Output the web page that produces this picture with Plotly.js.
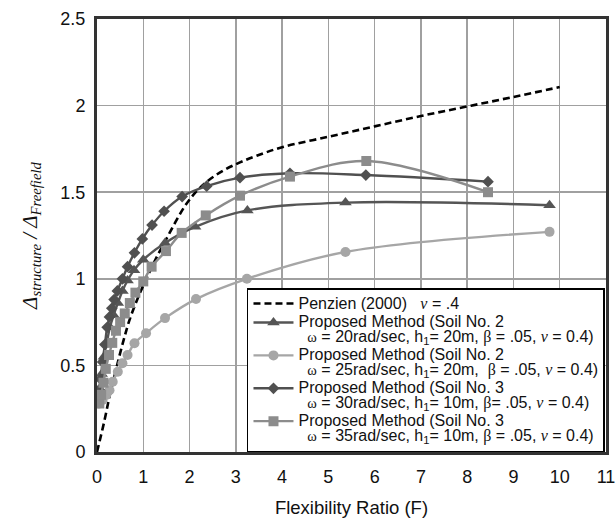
<!DOCTYPE html>
<html>
<head>
<meta charset="utf-8">
<script src="https://cdn.plot.ly/plotly-3.0.1.min.js"></script>
<style>html,body{margin:0;padding:0;background:#fff;}#chart{width:616px;height:523px;}</style>
</head>
<body>
<div id="chart"></div>
<script>
// Penzien (2000), nu = .4
const penzienF = [0, 0.16, 0.27, 0.37, 0.48, 0.59, 0.70, 0.90, 1.10, 1.30, 1.50, 1.70, 1.90, 2.10, 2.37, 2.73, 3.09, 3.45, 4.0, 5.0, 6.0, 7.0, 8.0, 9.0, 10.0];
const penzienR = [0, 0.18, 0.32, 0.43, 0.55, 0.66, 0.76, 0.90, 1.02, 1.13, 1.23, 1.33, 1.42, 1.49, 1.56, 1.625, 1.672, 1.71, 1.76, 1.82, 1.88, 1.94, 1.995, 2.05, 2.107];

// Soil No. 2, omega = 20 rad/sec (triangles)
const soil2w20F = [0.05, 0.10, 0.15, 0.21, 0.28, 0.36, 0.45, 0.55, 0.66, 0.80, 1.00, 1.47, 2.12, 3.25, 5.37, 9.78];
const soil2w20R = [0.35, 0.45, 0.55, 0.63, 0.72, 0.79, 0.86, 0.93, 0.99, 1.05, 1.11, 1.207, 1.30, 1.395, 1.44, 1.425];

// Soil No. 2, omega = 25 rad/sec (circles)
const soil2w25F = [0.05, 0.12, 0.20, 0.27, 0.34, 0.45, 0.55, 0.66, 0.81, 1.06, 1.47, 2.14, 3.24, 5.37, 9.78];
const soil2w25R = [0.28, 0.30, 0.33, 0.357, 0.406, 0.463, 0.512, 0.56, 0.628, 0.686, 0.773, 0.883, 1.0, 1.155, 1.271];

// Soil No. 3, omega = 30 rad/sec (diamonds)
const soil3w30F = [0.05, 0.08, 0.12, 0.17, 0.22, 0.27, 0.32, 0.37, 0.44, 0.55, 0.66, 0.81, 0.98, 1.19, 1.45, 1.84, 2.37, 3.09, 4.17, 5.81, 8.45];
const soil3w30R = [0.36, 0.42, 0.52, 0.62, 0.72, 0.78, 0.83, 0.88, 0.93, 1.0, 1.07, 1.15, 1.23, 1.31, 1.39, 1.475, 1.535, 1.584, 1.609, 1.599, 1.561];

// Soil No. 3, omega = 35 rad/sec (squares)
const soil3w35F = [0.05, 0.09, 0.14, 0.19, 0.26, 0.33, 0.41, 0.50, 0.60, 0.71, 0.83, 1.00, 1.18, 1.49, 1.83, 2.35, 3.09, 4.17, 5.82, 8.45];
const soil3w35R = [0.28, 0.33, 0.40, 0.48, 0.56, 0.63, 0.70, 0.75, 0.80, 0.86, 0.92, 0.985, 1.07, 1.16, 1.265, 1.366, 1.48, 1.59, 1.68, 1.50];

const xTickVals = [0,1,2,3,4,5,6,7,8,9,10,11];
const yTickVals = [0, 0.5, 1, 1.5, 2, 2.5];
const yTickText = ['0', '0.5', '1', '1.5', '2', '2.5'];

const S = 'font-size:16px';
const G = 'font-family:Liberation Serif';
function line(t){ return '<span style="' + S + '">' + t + '</span>'; }
const nu = '<span style="' + G + ';font-style:italic">ν</span>';
const om = '<span style="' + G + ';font-size:14.5px">ω</span>';
const be = '<span style="' + G + '">β</span>';

const names = [
  line('Penzien (2000)\u00a0\u00a0 ' + nu + ' = .4'),
  line('Proposed Method (Soil No. 2') + '<br>' + line('\u00a0\u00a0' + om + ' = 20rad/sec, h<sub>1</sub>= 20m, ' + be + ' = .05, ' + nu + ' = 0.4)'),
  line('Proposed Method (Soil No. 2') + '<br>' + line('\u00a0\u00a0' + om + ' = 25rad/sec, h<sub>1</sub>= 20m, \u00a0' + be + ' = .05, ' + nu + ' = 0.4)'),
  line('Proposed Method (Soil No. 3') + '<br>' + line('\u00a0\u00a0' + om + ' = 30rad/sec, h<sub>1</sub>= 10m, ' + be + '= .05, ' + nu + ' = 0.4)'),
  line('Proposed Method (Soil No. 3') + '<br>' + line('\u00a0\u00a0' + om + ' = 35rad/sec, h<sub>1</sub>= 10m, ' + be + ' = .05, ' + nu + ' = 0.4)')
];

const traces = [
  {x: penzienF, y: penzienR, name: names[0], mode: 'lines',
   line: {color: '#000', width: 2.6, dash: '7px,4px', shape: 'spline', smoothing: 1}},
  {x: soil2w20F, y: soil2w20R, name: names[1], mode: 'lines+markers',
   line: {color: '#555', width: 2.4, shape: 'spline'},
   marker: {symbol: 'triangle-up', size: 11, color: '#555'}},
  {x: soil2w25F, y: soil2w25R, name: names[2], mode: 'lines+markers',
   line: {color: '#a6a6a6', width: 2.4, shape: 'spline'},
   marker: {symbol: 'circle', size: 10, color: '#a6a6a6'}},
  {x: soil3w30F, y: soil3w30R, name: names[3], mode: 'lines+markers',
   line: {color: '#505050', width: 2.4, shape: 'spline'},
   marker: {symbol: 'diamond', size: 9, color: '#505050'}},
  {x: soil3w35F, y: soil3w35R, name: names[4], mode: 'lines+markers',
   line: {color: '#8c8c8c', width: 2.4, shape: 'spline'},
   marker: {symbol: 'square', size: 10, color: '#8c8c8c'}}
];

const layout = {
  width: 616, height: 523,
  margin: {l: 97, r: 10, t: 19, b: 71},
  paper_bgcolor: '#fff', plot_bgcolor: '#fff',
  font: {family: 'Liberation Sans, Arial, sans-serif', color: '#111'},
  showlegend: true,
  legend: {
    x: 0.998, xanchor: 'right', y: 0, yanchor: 'bottom',
    bgcolor: '#fff', bordercolor: '#000', borderwidth: 1.5,
    font: {size: 11.5, color: '#111'}, valign: 'top', itemwidth: 40
  },
  xaxis: {
    range: [0, 11], tickvals: xTickVals, ticktext: xTickVals.map(String),
    showgrid: true, gridcolor: '#a0a0a0', gridwidth: 1.5,
    showline: true, linecolor: '#333', linewidth: 3, mirror: true,
    ticks: 'outside', ticklen: 6, tickcolor: 'rgba(0,0,0,0)',
    tickfont: {size: 18, color: '#111'}, zeroline: false,
    title: {text: 'Flexibility Ratio (F)', font: {size: 18.5, color: '#111'}, standoff: 16}
  },
  yaxis: {
    range: [0, 2.5], tickvals: yTickVals, ticktext: yTickText,
    showgrid: true, gridcolor: '#a0a0a0', gridwidth: 1.5,
    showline: true, linecolor: '#333', linewidth: 3, mirror: true,
    ticks: 'outside', ticklen: 5, tickcolor: 'rgba(0,0,0,0)',
    tickfont: {size: 18, color: '#111'}, zeroline: false,
    title: {text: '<i>Δ<sub>structure</sub> / Δ<sub>Freefield</sub></i>',
            font: {size: 21, family: 'Liberation Serif, Times New Roman, serif', color: '#111'}, standoff: 18}
  }
};

Plotly.newPlot('chart', traces, layout, {displayModeBar: false, staticPlot: true});
</script>
</body>
</html>
